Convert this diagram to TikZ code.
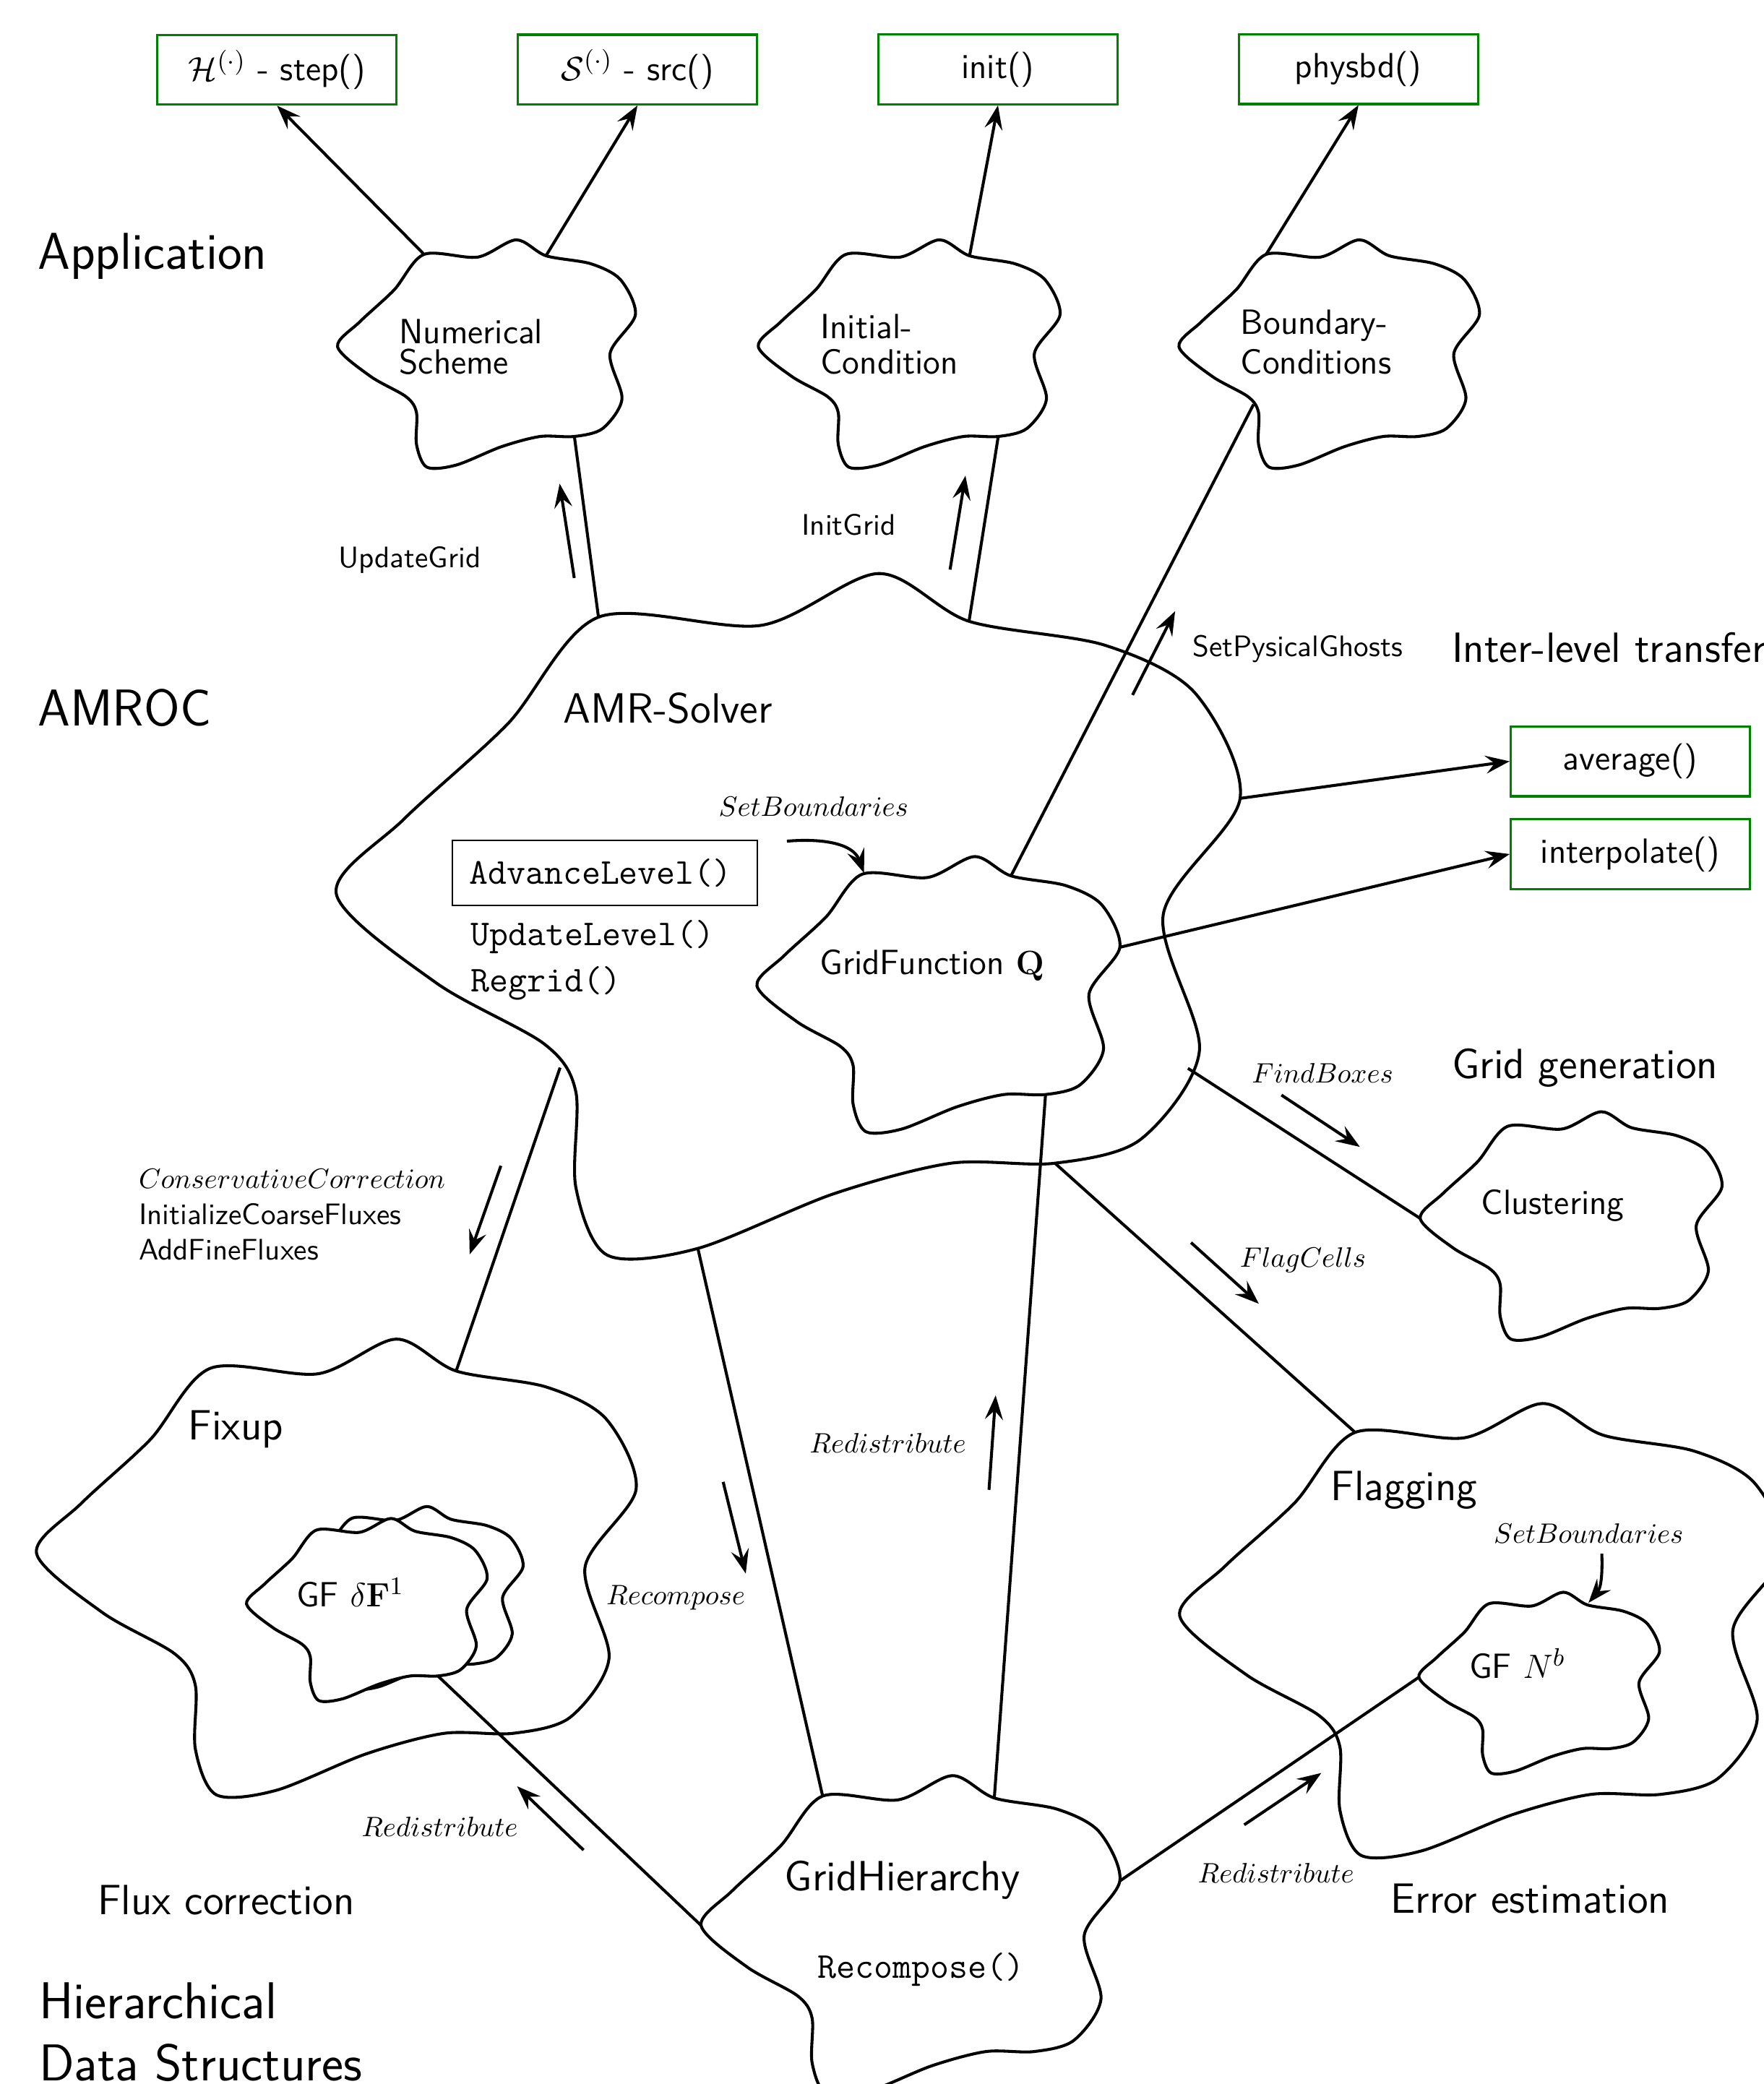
\documentclass[tikz,border=0pt]{standalone}
\usepackage{amsmath,amssymb}
\usetikzlibrary{arrows.meta,positioning,calc}
\renewcommand{\familydefault}{\sfdefault}

\tikzset{
  blobline/.style={line width=1.05pt},
  funcbox/.style={draw=green!50!black, line width=0.85pt, minimum width=3cm, minimum height=0.875cm, inner sep=2pt, font=\fontsize{12.5}{15}\selectfont},
  link/.style={line width=1.05pt},
  flow/.style={->, line width=1.05pt},
  bigtitle/.style={anchor=base west, inner sep=0pt, align=left, font=\fontsize{18.5}{22.2}\selectfont},
  midtitle/.style={anchor=base west, inner sep=0pt, font=\fontsize{15.1}{18}\selectfont},
  cloudtext/.style={anchor=base west, inner sep=0pt, align=left, font=\fontsize{12.5}{15}\selectfont},
  lbl/.style={anchor=base, inner sep=0pt, font=\fontsize{10.6}{12.8}\selectfont},
  mathlbl/.style={anchor=base, inner sep=0pt, font=\normalsize},
  code/.style={anchor=base west, inner sep=0pt, align=left, font=\fontsize{13}{16.5}\selectfont\ttfamily},
}

% one outline for all the blobs, unit box centred at the origin
\def\blobpts{-0.21/0.436, -0.03/0.424, 0.10/0.5, 0.20/0.43, 0.35/0.395, 0.45/0.325,
  0.5/0.17, 0.415/0.0, 0.455/-0.2, 0.39/-0.33, 0.295/-0.365, 0.18/-0.365, 0.05/-0.41,
  -0.10/-0.49, -0.20/-0.5, -0.235/-0.40, -0.235/-0.26, -0.27/-0.19, -0.39/-0.10,
  -0.5/0.03, -0.425/0.14, -0.31/0.28}
% \blob[style]{name}{centre}{width}{height}
\newcommand{\blob}[5][]{%
  \begin{scope}[shift={#3}, xscale=#4, yscale=#5]
    \foreach \bx/\by [count=\i] in \blobpts {\coordinate (#2-\i) at (\bx,\by);}
    \draw[blobline,#1] plot[smooth cycle] coordinates {(#2-1) (#2-2) (#2-3) (#2-4)
      (#2-5) (#2-6) (#2-7) (#2-8) (#2-9) (#2-10) (#2-11) (#2-12) (#2-13) (#2-14)
      (#2-15) (#2-16) (#2-17) (#2-18) (#2-19) (#2-20) (#2-21) (#2-22)};
  \end{scope}}

\begin{document}
\begin{tikzpicture}[scale=1.667, >={Stealth[length=8.6pt,width=6.4pt,inset=3.2pt]}]
\useasboundingbox (0,0) rectangle (13.27,15.68);

% Application layer
\blob{ns}{(3.66,13.02)}{2.24}{1.71}
\blob{ic}{(6.84,13.02)}{2.27}{1.71}
\blob{bc}{(10.00,13.02)}{2.26}{1.71}

\node[funcbox] (step) at (2.084,15.155) {$\mathcal{H}^{(\cdot)}$ - step()};
\node[funcbox, right=1.49cm of step] (src) {$\mathcal{S}^{(\cdot)}$ - src()};
\node[funcbox, right=1.49cm of src] (init) {init()};
\node[funcbox, right=1.49cm of init] (phys) {physbd()};

% AMROC layer
\blob{amr}{(5.93,8.80)}{6.80}{5.13}
\blob{gfq}{(7.06,8.20)}{2.73}{2.07}
\blob{clu}{(11.82,6.46)}{2.27}{1.71}
\blob{fix}{(2.53,3.89)}{4.51}{3.43}
\blob[fill=white]{dfb}{(3.03,3.66)}{1.81}{1.37}
\blob[fill=white]{dfa}{(2.76,3.57)}{1.81}{1.37}
\blob{flag}{(11.15,3.42)}{4.55}{3.40}
\blob{nb}{(11.58,3.02)}{1.81}{1.36}

\node[funcbox] (avg) at (12.265,9.951) {average()};
\node[funcbox, below=0.26cm of avg] (interp) {interpolate()};

% Hierarchical data structures
\blob{gh}{(6.85,1.12)}{3.15}{2.40}

% section titles
\node[bigtitle] (app) at (0.28,13.653) {Application};
\node[bigtitle] (amroc) at (0.28,10.22) {AMROC};
\node[midtitle] (ilt) at (10.92,10.695) {Inter-level transfer};
\node[midtitle] (gridgen) at (10.92,7.567) {Grid generation};
\node[midtitle] (fluxcorr) at (0.73,1.276) {Flux correction};
\node[midtitle] (errest) at (10.46,1.287) {Error estimation};
\node[bigtitle] (hds) at (0.29,0.025) {Hierarchical\\Data Structures};

% text inside the blobs
\node[cloudtext] (nstext) at (3.0,12.864) {Numerical\\[-4.05pt]Scheme};
\node[cloudtext] (ictext) at (6.17,12.865) {Initial-\\[-2.3pt]Condition};
\node[cloudtext] (bctext) at (9.33,12.864) {Boundary-\\[-0.8pt]Conditions};
\node[midtitle] (amrtext) at (4.236,10.242) {AMR-Solver};
\node[cloudtext] (gfqtext) at (6.165,8.349) {GridFunction $\mathbf{Q}$};
\node[cloudtext] (clutext) at (11.14,6.544) {Clustering};
\node[midtitle] (fixtext) at (1.414,4.847) {Fixup};
\node[cloudtext] (dftext) at (2.226,3.591) {GF $\delta\mathbf{F}^1$};
\node[midtitle] (flagtext) at (10.01,4.388) {Flagging};
\node[cloudtext] (nbtext) at (11.05,3.054) {GF $N^b$};
\node[midtitle] (ghtext) at (5.90,1.456) {GridHierarchy};
\node[code] (recomp) at (6.15,0.799) {Recompose()};

% solver methods
\node[draw, line width=0.5pt, anchor=west, text width=3.4cm, inner xsep=0.213cm,
  minimum height=0.812cm, align=left, font=\fontsize{13}{16.5}\selectfont\ttfamily] (adv) at (3.397,9.113) {AdvanceLevel()};
\node[code] (upd) at (3.537,8.218) {UpdateLevel()\\Regrid()};

% labels of the calls
\node[lbl] (ugl) at (3.081,11.41) {UpdateGrid};
\node[lbl] (igl) at (6.385,11.656) {InitGrid};
\node[lbl, anchor=base west] (spg) at (8.97,10.74) {SetPysicalGhosts};
\node[mathlbl, anchor=base west] (sb1) at (5.403,9.537) {$SetBoundaries$};
\node[lbl, anchor=base west, align=left] (cc) at (1.04,6.199)
  {{\fontsize{10}{12.8}\selectfont$ConservativeCorrection$}\\InitializeCoarseFluxes\\AddFineFluxes};
\node[mathlbl] (fb) at (9.95,7.533) {$FindBoxes$};
\node[mathlbl] (fc) at (9.803,6.145) {$FlagCells$};
\node[mathlbl] (rd1) at (6.68,4.75) {$Redistribute$};
\node[mathlbl] (rc) at (5.084,3.607) {$Recompose$};
\node[mathlbl] (rd2) at (3.308,1.862) {$Redistribute$};
\node[mathlbl] (rd3) at (9.60,1.512) {$Redistribute$};
\node[mathlbl] (sb2) at (11.952,4.069) {$SetBoundaries$};

% calls into the application
\draw[flow] (ns-1) -- (step.south);
\draw[flow] (ns-4) -- (src.south);
\draw[flow] (ic-4) -- (init.south);
\draw[flow] (bc-1) -- (phys.south);
\draw[flow] (amr-7) -- (avg.west);
\draw[flow] (gfq-7) -- (interp.west);

% links between the blobs
\coordinate (bc-q) at ($(bc-17)!0.5!(bc-18)$);
\coordinate (amr-fx) at ($(amr-17)!0.5!(amr-18)$);
\coordinate (amr-cl) at ($(amr-9)!0.2!(amr-10)$);
\draw[link] (ns-11) -- (amr-1);
\draw[link] (ic-11) -- (amr-4);
\draw[link] (bc-q) -- (gfq-4);
\draw[link] (amr-fx) -- (fix-4);
\draw[link] (amr-14) -- (gh-1);
\draw[link] (gfq-11) -- (gh-4);
\draw[link] (amr-11) -- (flag-1);
\draw[link] (amr-cl) -- (clu-20);
\draw[link] (gh-20) -- (dfa-11);
\draw[link] (gh-7) -- (nb-20);

% small arrows beside the links
\coordinate (ug-a) at (4.32,11.33);   \coordinate (ug-b) at (4.21,12.04);
\coordinate (ig-a) at (7.147,11.393); \coordinate (ig-b) at (7.263,12.10);
\coordinate (pg-a) at (8.52,10.45);   \coordinate (pg-b) at (8.84,11.08);
\coordinate (cc-a) at (3.768,6.908);  \coordinate (cc-b) at (3.533,6.241);
\coordinate (fb-a) at (9.64,7.44);    \coordinate (fb-b) at (10.23,7.05);
\coordinate (fc-a) at (8.96,6.33);    \coordinate (fc-b) at (9.47,5.87);
\coordinate (rd1-a) at (7.44,4.47);   \coordinate (rd1-b) at (7.49,5.18);
\coordinate (rc-a) at (5.44,4.53);    \coordinate (rc-b) at (5.61,3.84);
\coordinate (rd2-a) at (4.39,1.76);   \coordinate (rd2-b) at (3.89,2.24);
\coordinate (rd3-a) at (9.36,1.95);   \coordinate (rd3-b) at (9.94,2.34);
\foreach \n in {ug,ig,pg,cc,fb,fc,rd1,rc,rd2,rd3}
  \draw[flow] (\n-a) -- (\n-b);

\coordinate (sb1-a) at (5.92,9.35);   \coordinate (sb1-b) at (6.50,9.11);
\coordinate (sb2-a) at (12.05,3.99);  \coordinate (sb2-b) at (11.95,3.62);
\draw[flow] (sb1-a) to[out=5,in=110] (sb1-b);
\draw[flow] (sb2-a) to[out=-88,in=50] (sb2-b);

\end{tikzpicture}
\end{document}
